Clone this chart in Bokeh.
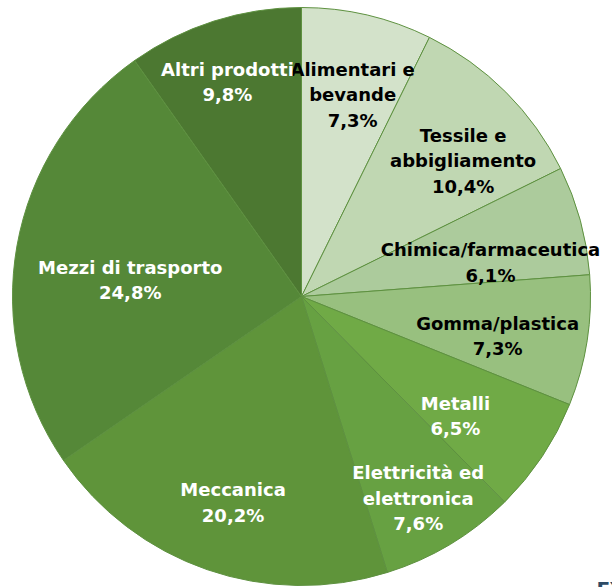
import math
import pandas as pd
from bokeh.plotting import figure
from bokeh.models import ColumnDataSource, Range1d
from bokeh.core.properties import value
from bokeh.embed import file_html
from bokeh.resources import INLINE

# ---- data ----
categories = ["Alimentari e\nbevande", "Tessile e\nabbigliamento", "Chimica/farmaceutica",
              "Gomma/plastica", "Metalli", "Elettricità ed\nelettronica", "Meccanica",
              "Mezzi di trasporto", "Altri prodotti"]
values = [7.3, 10.4, 6.1, 7.3, 6.5, 7.6, 20.2, 24.8, 9.8]

# ---- style ----
colors = ["#D3E2CA", "#C0D7B2", "#ACCB9C", "#98C07F", "#70AA46",
          "#67A142", "#5F943A", "#558838", "#4C7831"]
text_colors = ["#000000"] * 4 + ["#FFFFFF"] * 5
label_r = [208, 211, 192, 200, 195, 233, 217, 172, 227]      # label distance (px)
label_da = [1.1, 5.0, 5.1, 2.5, 4.2, 0.9, -0.7, -4.7, -1.4]  # angle nudge (deg)

W, H = 612, 587
cx, cy = 301, H - 296
R = 289

df = pd.DataFrame({"cat": categories, "val": values, "color": colors, "tcolor": text_colors})
total = df["val"].sum()
df["frac_end"] = df["val"].cumsum() / total
df["frac_start"] = df["frac_end"] - df["val"] / total
df["start"] = math.pi / 2 - df["frac_start"] * 2 * math.pi
df["end"] = math.pi / 2 - df["frac_end"] * 2 * math.pi
mid_deg = (df["frac_start"] + df["frac_end"]) / 2 * 360 + pd.Series(label_da)
df["lx"] = cx + pd.Series(label_r) * (mid_deg * math.pi / 180).apply(math.sin)
df["ly"] = cy + pd.Series(label_r) * (mid_deg * math.pi / 180).apply(math.cos)
df["label"] = [c + "\n" + f"{v:.1f}".replace(".", ",") + "%" for c, v in zip(categories, values)]

src = ColumnDataSource(df)

p = figure(width=W, height=H, output_backend="svg", toolbar_location=None,
           x_range=Range1d(0, W), y_range=Range1d(0, H), min_border=0)
p.axis.visible = False
p.grid.visible = False
p.outline_line_color = None
p.background_fill_color = "white"

p.wedge(x=cx, y=cy, radius=R, start_angle="start", end_angle="end", direction="clock",
        fill_color="color", line_color="#5E9140", line_width=1, source=src)

p.text(x="lx", y="ly", text="label", text_color="tcolor", source=src,
       text_font=value("DejaVu Sans"), text_font_style="bold", text_font_size="18px",
       text_align="center", text_baseline="middle", text_line_height=1.2)

p.text(x=[596], y=[11], text=["EY"], text_color="#2E4B66", text_font=value("DejaVu Sans"),
       text_font_style="bold", text_font_size="20px", text_align="left", text_baseline="top")

open("out.html", "w").write(file_html(p, INLINE))
